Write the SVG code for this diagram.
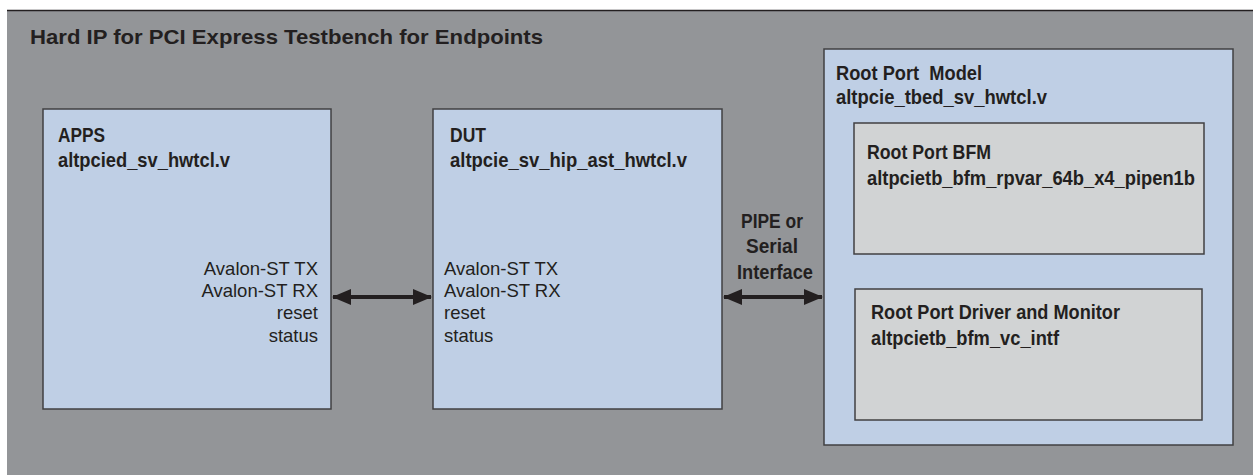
<svg xmlns="http://www.w3.org/2000/svg" width="1253" height="475" viewBox="0 0 1253 475">
<style>
.b{font-family:"Liberation Sans",Arial,sans-serif;font-weight:bold;fill:#231f20;white-space:pre}
.r{font-family:"Liberation Sans",Arial,sans-serif;font-size:18.5px;fill:#231f20}
.blue{fill:#bfcfe5;stroke:#414042;stroke-width:1.5}
.grey{fill:#d1d3d4;stroke:#414042;stroke-width:1.5}
.conn{stroke:#231f20;stroke-width:4;fill:none}
</style>
<defs>
<marker id="ah" viewBox="0 0 19 16" refX="18" refY="8" markerWidth="19" markerHeight="16" markerUnits="userSpaceOnUse" orient="auto-start-reverse">
<path d="M0,0 L19,8 L0,16 Z" fill="#231f20"/>
</marker>
</defs>
<rect width="1253" height="475" fill="#ffffff"/>
<rect x="7" y="10" width="1246" height="465" fill="#939598"/>
<line x1="7" y1="10.5" x2="1253" y2="10.5" stroke="#231f20" stroke-width="1.5"/>
<text class="b" x="30" y="44" font-size="20.5" textLength="513" lengthAdjust="spacingAndGlyphs">Hard IP for PCI Express Testbench for Endpoints</text>

<g id="apps">
<rect class="blue" x="43" y="109" width="288" height="300"/>
<text class="b" x="58" y="142" font-size="21" textLength="47" lengthAdjust="spacingAndGlyphs">APPS</text>
<text class="b" x="58" y="167" font-size="21" textLength="172" lengthAdjust="spacingAndGlyphs">altpcied_sv_hwtcl.v</text>
<g class="r" text-anchor="end">
<text x="318" y="275">Avalon-ST TX</text>
<text x="318" y="297">Avalon-ST RX</text>
<text x="318" y="319">reset</text>
<text x="318" y="342">status</text>
</g>
</g>

<g id="dut">
<rect class="blue" x="433" y="109" width="289" height="300"/>
<text class="b" x="450" y="142" font-size="21" textLength="36" lengthAdjust="spacingAndGlyphs">DUT</text>
<text class="b" x="450" y="167" font-size="21" textLength="237" lengthAdjust="spacingAndGlyphs">altpcie_sv_hip_ast_hwtcl.v</text>
<g class="r">
<text x="444" y="275">Avalon-ST TX</text>
<text x="444" y="297">Avalon-ST RX</text>
<text x="444" y="319">reset</text>
<text x="444" y="342">status</text>
</g>
</g>

<g id="rootport">
<rect class="blue" x="824" y="49" width="409" height="396"/>
<text class="b" x="836" y="80" font-size="21" textLength="146" lengthAdjust="spacingAndGlyphs">Root Port  Model</text>
<text class="b" x="836" y="104" font-size="21" textLength="211" lengthAdjust="spacingAndGlyphs">altpcie_tbed_sv_hwtcl.v</text>
</g>

<g id="bfm">
<rect class="grey" x="854" y="123" width="350" height="131"/>
<text class="b" x="867" y="159" font-size="21" textLength="124" lengthAdjust="spacingAndGlyphs">Root Port BFM</text>
<text class="b" x="867" y="185" font-size="21" textLength="328" lengthAdjust="spacingAndGlyphs">altpcietb_bfm_rpvar_64b_x4_pipen1b</text>
</g>

<g id="driver">
<rect class="grey" x="855" y="289" width="347" height="131"/>
<text class="b" x="871" y="319" font-size="21" textLength="249" lengthAdjust="spacingAndGlyphs">Root Port Driver and Monitor</text>
<text class="b" x="871" y="345" font-size="21" textLength="188" lengthAdjust="spacingAndGlyphs">altpcietb_bfm_vc_intf</text>
</g>

<g id="connectors">
<line class="conn" x1="333" y1="297" x2="431" y2="297" marker-start="url(#ah)" marker-end="url(#ah)"/>
<line class="conn" x1="724" y1="297" x2="822" y2="297" marker-start="url(#ah)" marker-end="url(#ah)"/>
<g class="b" font-size="20" text-anchor="middle">
<text x="772" y="228" textLength="62" lengthAdjust="spacingAndGlyphs">PIPE or</text>
<text x="772" y="253" textLength="52" lengthAdjust="spacingAndGlyphs">Serial</text>
<text x="775" y="279" textLength="76" lengthAdjust="spacingAndGlyphs">Interface</text>
</g>
</g>
</svg>
